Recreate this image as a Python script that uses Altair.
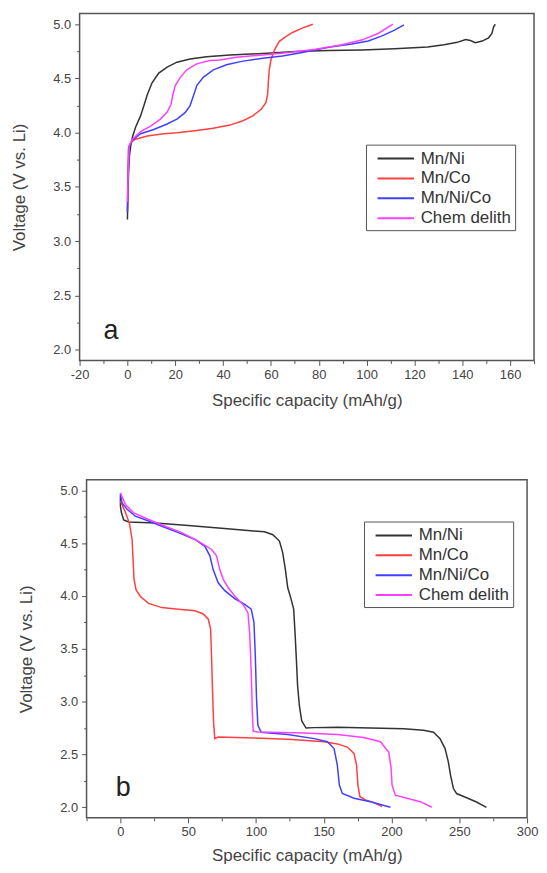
import altair as alt
import pandas as pd

SERIES = ["Mn/Ni", "Mn/Co", "Mn/Ni/Co", "Chem delith"]
COLORS = ["#333333", "#ff4040", "#4040ff", "#ff40ff"]
FONT = "Liberation Sans"

# ---- panel a (charge) ----
a_mnni_cap = [0, 0.2, 0.5, 0.8, 1.4, 2.1, 3.4, 5.5, 6.9, 8.3, 10.3, 13.1, 16.6, 20.7, 26.2, 33.1, 42.8,
              56.6, 70.3, 84.1, 97.9, 111.7, 125.5, 132.4, 137.9, 141.4, 143.4, 145.5, 148.3, 151.0,
              152.4, 153.1, 153.8]
a_mnni_v = [3.20, 3.45, 3.65, 3.78, 3.88, 3.96, 4.05, 4.155, 4.25, 4.35, 4.46, 4.55, 4.605, 4.65, 4.68,
            4.70, 4.717, 4.73, 4.748, 4.757, 4.763, 4.775, 4.79, 4.81, 4.833, 4.86, 4.85, 4.83, 4.845,
            4.875, 4.915, 4.976, 5.0]
a_mnco_cap = [0, 0.1, 0.3, 0.4, 1.4, 3.4, 8.3, 15.2, 20.7, 29, 35.9, 42.8, 48.3, 52.4, 55.9, 57.9, 58.6,
              58.9, 59.3, 60.0, 61.4, 63.4, 66.2, 69.0, 73.1, 77.5]
a_mnco_v = [3.27, 3.5, 3.75, 3.85, 3.91, 3.94, 3.97, 3.99, 4.0, 4.02, 4.04, 4.07, 4.11, 4.155, 4.216,
            4.277, 4.35, 4.46, 4.58, 4.67, 4.76, 4.84, 4.885, 4.924, 4.964, 5.0]
a_mnnico_cap = [0, 0.2, 0.5, 0.7, 2.1, 5.5, 11, 16.6, 20.7, 24.1, 26.2, 27.6, 29, 31.7, 35.9, 41.4,
                48.3, 56.6, 64.8, 73.1, 84.1, 93.8, 100.7, 106.2, 111.7, 115.6]
a_mnnico_v = [3.27, 3.5, 3.75, 3.87, 3.93, 3.99, 4.03, 4.08, 4.125, 4.185, 4.25, 4.34, 4.435, 4.51,
              4.58, 4.626, 4.66, 4.687, 4.708, 4.74, 4.787, 4.818, 4.845, 4.89, 4.945, 4.994]
a_chem_cap = [0, 0.3, 0.7, 2.1, 5.5, 9.7, 13.8, 16.6, 18.2, 19.0, 20.0, 22.1, 24.8, 29.0, 34.5, 38.6,
              45.5, 56.6, 67.6, 78.6, 89.7, 97.9, 104.8, 111.0]
a_chem_v = [3.36, 3.6, 3.88, 3.94, 4.01, 4.06, 4.125, 4.19, 4.26, 4.35, 4.435, 4.51, 4.58, 4.635, 4.666,
            4.67, 4.696, 4.717, 4.74, 4.77, 4.81, 4.854, 4.915, 5.0]

# ---- panel b (discharge) ----
b_mnni_cap = [0, 0, 0.7, 2.4, 6.1, 25.7, 50.1, 74.5, 94, 106.3, 112.4, 117.3, 119.7, 121.7, 123.4,
              125.9, 127.8, 128.8, 129.8, 130.7, 132, 133.7, 136.9, 143, 160, 184.5, 209, 223.6, 231,
              235.8, 239.5, 241.9, 243.6, 245.6, 248, 255.4, 262.7, 270]
b_mnni_v = [4.96, 4.85, 4.79, 4.72, 4.70, 4.69, 4.667, 4.64, 4.62, 4.607, 4.58, 4.52, 4.41, 4.25, 4.08,
            3.97, 3.875, 3.655, 3.40, 3.15, 2.965, 2.82, 2.75, 2.754, 2.757, 2.75, 2.744, 2.73, 2.71,
            2.65, 2.556, 2.43, 2.30, 2.18, 2.13, 2.09, 2.05, 2.0]
b_mnco_cap = [0, 3.7, 6.6, 8.6, 9.3, 10, 11.5, 14.7, 20.8, 30.5, 42.8, 55, 61.1, 64.8, 66.5, 67.2, 67.9,
              68.7, 69.6, 72.1, 99, 123.4, 150.3, 160, 167.4, 172.3, 174.2, 175.2, 176.7, 180.8, 187, 193]
b_mnco_v = [4.90, 4.79, 4.69, 4.535, 4.35, 4.16, 4.06, 3.995, 3.93, 3.89, 3.875, 3.86, 3.83, 3.78, 3.69,
            3.435, 3.12, 2.807, 2.65, 2.665, 2.656, 2.644, 2.62, 2.60, 2.57, 2.51, 2.40, 2.21, 2.10,
            2.07, 2.044, 2.006]
b_mnnico_cap = [0, 1.2, 4.9, 11, 20.8, 30.5, 42.8, 55, 62.3, 66, 68.4, 72.1, 77, 84.3, 91.7, 96.5, 98.5,
                99.5, 100.4, 101.4, 103.9, 123.4, 143, 152.7, 157.6, 160, 161.5, 163.7, 172.3, 184.5, 199.2]
b_mnnico_v = [4.97, 4.88, 4.82, 4.755, 4.71, 4.66, 4.6, 4.535, 4.47, 4.38, 4.25, 4.125, 4.05, 3.976,
              3.92, 3.875, 3.75, 3.435, 3.027, 2.776, 2.71, 2.688, 2.65, 2.62, 2.556, 2.40, 2.21, 2.13,
              2.085, 2.053, 2.0]
b_chem_cap = [0, 3.7, 9.8, 20.8, 33, 45.2, 57.4, 67.2, 70.9, 73.3, 75.8, 79.4, 84.3, 90.4, 94.1, 95.3,
              96.5, 97.3, 98, 101.4, 135.6, 160, 179.6, 191.8, 198, 199.7, 200.4, 202.8, 211.4, 221.2, 229.7]
b_chem_v = [4.975, 4.865, 4.786, 4.724, 4.66, 4.6, 4.52, 4.44, 4.38, 4.25, 4.16, 4.08, 4.0, 3.92, 3.84,
            3.655, 3.28, 2.90, 2.72, 2.713, 2.703, 2.688, 2.66, 2.62, 2.52, 2.37, 2.21, 2.115, 2.085,
            2.053, 2.0]

# axis ticks: labelled major ticks and unlabelled minor ticks
a_x_major = [-20, 0, 20, 40, 60, 80, 100, 120, 140, 160]
a_x_minor = [-10, 10, 30, 50, 70, 90, 110, 130, 150, 170]
b_x_major = [0, 50, 100, 150, 200, 250, 300]
b_x_minor = [-25, 25, 75, 125, 175, 225, 275]
y_major = [2.0, 2.5, 3.0, 3.5, 4.0, 4.5, 5.0]
y_minor = [2.25, 2.75, 3.25, 3.75, 4.25, 4.75]

# panel letters
a_letter = {"cap": [-10.0], "volt": [2.10], "label": ["a"]}
b_letter = {"cap": [-3.5], "volt": [2.11], "label": ["b"]}


def long_frame(pairs):
    rows = []
    for name, (caps, volts) in zip(SERIES, pairs):
        for i, (c, v) in enumerate(zip(caps, volts)):
            rows.append({"series": name, "cap": c, "volt": v, "idx": i})
    return pd.DataFrame(rows)


df_a = long_frame([(a_mnni_cap, a_mnni_v), (a_mnco_cap, a_mnco_v),
                   (a_mnnico_cap, a_mnnico_v), (a_chem_cap, a_chem_v)])
df_b = long_frame([(b_mnni_cap, b_mnni_v), (b_mnco_cap, b_mnco_v),
                   (b_mnnico_cap, b_mnnico_v), (b_chem_cap, b_chem_v)])


def panel(df, letter, xdom, xmaj, xmin, w, h, lx, ly, xtp):
    xs = alt.Scale(domain=xdom, nice=False, zero=False)
    ys = alt.Scale(domain=[1.9, 5.1], nice=False, zero=False)
    xaxis = alt.Axis(
        values=xmaj, title="Specific capacity (mAh/g)", orient="bottom",
        labelExpr="'' + datum.value", tickSize=5,
        domain=False, grid=False, labelPadding=3, titlePadding=xtp,
        labelOverlap=False, labelFlush=False,
    )
    yaxis = alt.Axis(
        values=y_major, title="Voltage (V vs. Li)", format=".1f", orient="left",
        tickSize=5, domain=False, grid=False, labelPadding=4, titlePadding=24,
        labelOverlap=False,
    )
    xaxis_minor = alt.Axis(values=xmin, title=None, labels=False, tickSize=3, orient="bottom",
                           domain=False, grid=False)
    yaxis_minor = alt.Axis(values=y_minor, title=None, labels=False, tickSize=3, orient="left",
                           domain=False, grid=False)
    legend = alt.Legend(
        title=None, orient="none", legendX=lx, legendY=ly,
        symbolType="M-0.26,0L3.81,0", symbolSize=324, symbolStrokeWidth=2,
        labelFontSize=17, labelFont=FONT, labelColor="#333333", labelOffset=31,
        padding=4, rowPadding=2, strokeColor="#555555", fillColor="white", labelLimit=300,
    )
    lines = alt.Chart(df).mark_line(strokeWidth=1.5, clip=True).encode(
        x=alt.X("cap:Q", scale=xs, axis=xaxis),
        y=alt.Y("volt:Q", scale=ys, axis=yaxis),
        color=alt.Color("series:N", scale=alt.Scale(domain=SERIES, range=COLORS),
                        sort=SERIES, legend=legend),
        order="idx:Q",
    )
    txt = alt.Chart(pd.DataFrame(letter)).mark_text(
        fontSize=27, font=FONT, color="#222222", align="left", baseline="alphabetic"
    ).encode(
        x=alt.X("cap:Q", scale=xs, axis=xaxis_minor),
        y=alt.Y("volt:Q", scale=ys, axis=yaxis_minor),
        text="label:N",
    )
    return alt.layer(lines, txt).resolve_axis(x="independent", y="independent").properties(
        width=w, height=h)


pa = panel(df_a, a_letter, [-20, 170], a_x_major, a_x_minor, 457, 349, 288, 132, 11)
pb = panel(df_b, b_letter, [-25, 300], b_x_major, b_x_minor, 443, 340, 279, 42, 9)

chart = alt.vconcat(pa, pb, spacing=120, center=True, bounds="flush").resolve_legend(
    color="independent"
).properties(
    padding={"left": 2, "top": 2, "right": 0, "bottom": 0}
).configure_view(
    stroke="#555555", strokeWidth=1.5
).configure_axis(
    labelFont=FONT, titleFont=FONT, labelFontSize=13, titleFontSize=17,
    titleFontWeight="normal", labelColor="#444444", titleColor="#444444",
    tickColor="#555555", tickWidth=1,
)

chart.save("out.html", embed_options={"renderer": "svg", "actions": False})
